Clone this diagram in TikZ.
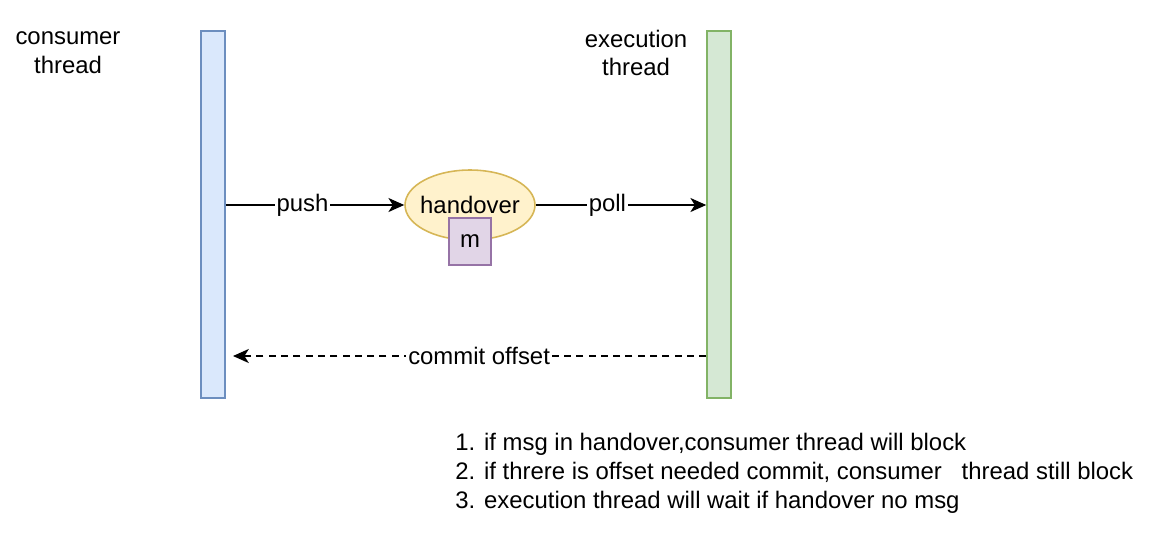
\documentclass[tikz,border=0pt]{standalone}
\usepackage{fontspec}
\setmainfont{Liberation Sans}
\usetikzlibrary{positioning,arrows.meta,shapes.geometric}

\definecolor{blueFill}{HTML}{DAE8FC}
\definecolor{blueLine}{HTML}{6C8EBF}
\definecolor{greenFill}{HTML}{D5E8D4}
\definecolor{greenLine}{HTML}{82B366}
\definecolor{yellowFill}{HTML}{FFF2CC}
\definecolor{yellowLine}{HTML}{D6B656}
\definecolor{purpleFill}{HTML}{E1D5E7}
\definecolor{purpleLine}{HTML}{9673A6}

\tikzset{
  lane/.style={draw,line width=0.9pt,minimum width=0.48cm,minimum height=7.34cm,inner sep=0pt},
  title/.style={align=center,inner sep=0pt},
  lbl/.style={fill=white,inner sep=1pt},
  flow/.style={line width=0.9pt,-{Stealth[length=9pt,width=8pt,inset=2.5pt]}}
}

\begin{document}
\begin{tikzpicture}[x=0.02cm,y=-0.02cm,font=\fontsize{13.6}{16.4}\selectfont]
    \useasboundingbox (0,0) rectangle (1154,532);
    \node[lane,fill=blueFill,draw=blueLine] (cons) at (213,214.5) {};
    \node[lane,fill=greenFill,draw=greenLine] (exec) at (719,214.5) {};
    \node[title] (consT) at (68,53) {consumer\\thread};
    \node[title] (execT) at (636,53) {execution\\thread};
    \node[ellipse,draw=yellowLine,fill=yellowFill,line width=0.9pt,minimum width=2.6cm,minimum height=1.4cm,inner sep=0pt,label=center:handover] (hand) at (470,205) {};
    \node[draw=purpleLine,fill=purpleFill,line width=0.9pt,minimum width=0.84cm,minimum height=0.94cm,inner sep=0pt] (msg) at (470,241.5) {m};
    \coordinate (ack) at (233,356);
    \draw[flow] (cons.east |- hand.west) -- node[lbl,pos=0.43] {push} (hand.west);
    \draw[flow] (hand.east) -- node[lbl,pos=0.42] {poll} (exec.west |- hand.east);
    \draw[flow,dash pattern=on 4pt off 3pt] (exec.west |- ack) -- node[lbl,pos=0.48] {commit offset} (ack);
    \node[anchor=north west,align=left,inner sep=0pt] (notes) at (455,433) {1. if msg in handover,consumer thread will block\\2. if threre is offset needed commit, consumer\ \ \ thread still block\\3. execution thread will wait if handover no msg};
\end{tikzpicture}
\end{document}
